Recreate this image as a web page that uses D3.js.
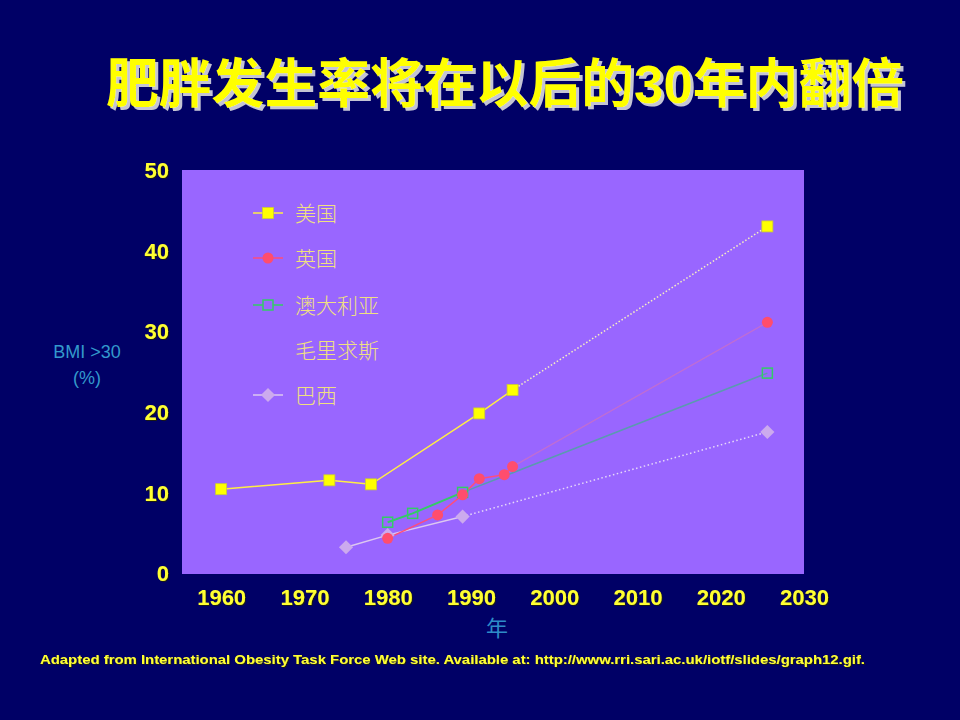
<!DOCTYPE html>
<html>
<head>
<meta charset="utf-8">
<script src="https://cdn.jsdelivr.net/npm/d3@7"></script>
<style>
html,body{margin:0;padding:0;background:#000066;}
svg{display:block;}
</style>
</head>
<body>
<script>
// ---- data ----
const titleText = "肥胖发生率将在以后的30年内翻倍";
const xTicks = [1960, 1970, 1980, 1990, 2000, 2010, 2020, 2030];
const yTicks = [0, 10, 20, 30, 40, 50];
const seriesNames = ["美国", "英国", "澳大利亚", "毛里求斯", "巴西"];

const usYears = [1960, 1973, 1978, 1991, 1995];
const usValues = [10.4, 11.5, 11.0, 19.8, 22.7];
const ukYears = [1980, 1986, 1989, 1991, 1994, 1995];
const ukValues = [4.3, 7.2, 9.7, 11.7, 12.2, 13.2];
const auYears = [1980, 1983, 1989];
const auValues = [6.3, 7.4, 10.0];
const muYears = [];
const muValues = [];
const brYears = [1975, 1980, 1989];
const brValues = [3.2, 4.7, 7.0];

const projYear = 2025.6;
const usProj = 43.0, ukProj = 31.1, auProj = 24.8, brProj = 17.5;

const sourceText = "Adapted from International Obesity Task Force Web site. Available at: http://www.rri.sari.ac.uk/iotf/slides/graph12.gif.";

// ---- layout ----
const W = 960, H = 720;
const svg = d3.select("body").append("svg").attr("width", W).attr("height", H);
const defs = svg.append("defs");
defs.append("filter").attr("id", "tshadow").attr("x", "-5%").attr("y", "-20%").attr("width", "110%").attr("height", "140%")
  .append("feDropShadow").attr("dx", 3).attr("dy", 3).attr("stdDeviation", 0.6)
  .attr("flood-color", "#C4C4D4").attr("flood-opacity", 1);
defs.append("filter").attr("id", "lshadow")
  .append("feDropShadow").attr("dx", 1).attr("dy", 1).attr("stdDeviation", 0.3)
  .attr("flood-color", "#222200").attr("flood-opacity", 0.8);

svg.append("rect").attr("width", W).attr("height", H).attr("fill", "#000066");

const plot = {left: 182, right: 804, top: 170, bottom: 574};
const x = d3.scaleLinear().domain([1955.3, 2030]).range([plot.left, plot.right]);
const y = d3.scaleLinear().domain([0, 50]).range([573, plot.top]);

svg.append("rect").attr("x", plot.left).attr("y", plot.top)
  .attr("width", plot.right - plot.left).attr("height", plot.bottom - plot.top)
  .attr("fill", "#9966FF");

// title with shadow
svg.append("text").attr("x", 505).attr("y", 103)
  .attr("font-family", "'Liberation Sans','Noto Sans CJK SC',sans-serif")
  .attr("font-weight", "bold").attr("font-size", 53).attr("text-anchor", "middle")
  .attr("textLength", 798).attr("lengthAdjust", "spacingAndGlyphs")
  .attr("fill", "#FFFF00").attr("filter", "url(#tshadow)").text(titleText);

// axes
const yAxis = d3.axisLeft(y).tickValues(yTicks).tickSize(0).tickPadding(13);
const yg = svg.append("g").attr("transform", `translate(${plot.left},0)`).call(yAxis);
const xAxis = d3.axisBottom(x).tickValues(xTicks).tickSize(0).tickPadding(12).tickFormat(d3.format("d"));
const xg = svg.append("g").attr("transform", `translate(0,${plot.bottom})`).call(xAxis);
[yg, xg].forEach(g => {
  g.select(".domain").remove();
  g.selectAll("text").attr("fill", "#FFFF33").attr("font-size", 22).attr("font-weight", "bold")
    .attr("font-family", "'Liberation Sans',Arial,sans-serif").attr("filter", "url(#lshadow)");
});
yg.selectAll("text").attr("dy", "0.35em");
xg.selectAll("text").attr("dy", "0.85em");

// axis titles
const axT = svg.append("g").attr("font-family", "'Liberation Sans',Arial,sans-serif").attr("fill", "#3399CC")
  .attr("text-anchor", "middle").attr("font-size", 18);
axT.append("text").attr("x", 87).attr("y", 358).text("BMI >30");
axT.append("text").attr("x", 87).attr("y", 384).text("(%)");
svg.append("text").attr("x", 497).attr("y", 636).attr("text-anchor", "middle")
  .attr("font-family", "'Noto Sans CJK SC',sans-serif").attr("font-size", 22).attr("fill", "#2E8BC8").text("年");

// lines
const line = d3.line().x(d => x(d[0])).y(d => y(d[1]));
const zip = (a, b) => a.map((v, i) => [v, b[i]]);
const us = zip(usYears, usValues), uk = zip(ukYears, ukValues), au = zip(auYears, auValues), br = zip(brYears, brValues);
const proj = (pts, v) => [pts[pts.length - 1], [projYear, v]];

const lines = svg.append("g").attr("fill", "none");
// projections
lines.append("path").attr("d", line(proj(br, brProj))).attr("stroke", "#E6D8F8").attr("stroke-width", 1.5).attr("stroke-dasharray", "1.5,2.5");
lines.append("path").attr("d", line(proj(au, auProj))).attr("stroke", "#5A9AB0").attr("stroke-width", 1.5);
lines.append("path").attr("d", line(proj(uk, ukProj))).attr("stroke", "#D070C0").attr("stroke-width", 1.2).attr("opacity", 0.7);
lines.append("path").attr("d", line(proj(us, usProj))).attr("stroke", "#F8F0C0").attr("stroke-width", 1.5).attr("stroke-dasharray", "1.5,2");
// observed
lines.append("path").attr("d", line(br)).attr("stroke", "#DDC8F0").attr("stroke-width", 1.5);
lines.append("path").attr("d", line(au)).attr("stroke", "#33CC66").attr("stroke-width", 2);
lines.append("path").attr("d", line(uk)).attr("stroke", "#FF4D7A").attr("stroke-width", 1.5);
lines.append("path").attr("d", line(us)).attr("stroke", "#FFEE44").attr("stroke-width", 1.5);

// markers
const mk = svg.append("g");
const brAll = br.concat([[projYear, brProj]]);
const auAll = au.concat([[projYear, auProj]]);
const ukAll = uk.concat([[projYear, ukProj]]);
const usAll = us.concat([[projYear, usProj]]);
const diamondSym = d3.symbol().type(d3.symbolSquare).size(100);
mk.selectAll(".br").data(brAll).join("path").attr("class", "br")
  .attr("d", diamondSym).attr("transform", d => `translate(${x(d[0])},${y(d[1])}) rotate(45)`)
  .attr("fill", "#CCAAEE");
mk.selectAll(".au").data(auAll).join("rect").attr("class", "au")
  .attr("x", d => x(d[0]) - 5).attr("y", d => y(d[1]) - 5).attr("width", 10).attr("height", 10)
  .attr("fill", "none").attr("stroke", "#33CC66").attr("stroke-width", 1.5);
mk.selectAll(".uk").data(ukAll).join("circle").attr("class", "uk")
  .attr("cx", d => x(d[0])).attr("cy", d => y(d[1])).attr("r", 5.5).attr("fill", "#FF4D6D");
mk.selectAll(".us").data(usAll).join("rect").attr("class", "us")
  .attr("x", d => x(d[0]) - 5.5).attr("y", d => y(d[1]) - 5.5).attr("width", 11).attr("height", 11)
  .attr("fill", "#FFFF00").attr("stroke", "#CCCC33").attr("stroke-width", 0.8);

// legend
const legY = [213, 258, 305, 350, 395];
const leg = svg.append("g");
seriesNames.forEach((name, i) => {
  const g = leg.append("g").attr("transform", `translate(0,${legY[i]})`);
  const cx = 268;
  if (i === 0) {
    g.append("line").attr("x1", 253).attr("x2", 283).attr("stroke", "#FFEE44").attr("stroke-width", 1.5);
    g.append("rect").attr("x", cx - 5.5).attr("y", -5.5).attr("width", 11).attr("height", 11).attr("fill", "#FFFF00").attr("stroke", "#CCCC33").attr("stroke-width", 0.8);
  } else if (i === 1) {
    g.append("line").attr("x1", 253).attr("x2", 283).attr("stroke", "#FF4D7A").attr("stroke-width", 1.5);
    g.append("circle").attr("cx", cx).attr("r", 5.5).attr("fill", "#FF4D6D");
  } else if (i === 2) {
    g.append("line").attr("x1", 253).attr("x2", 283).attr("stroke", "#33CC66").attr("stroke-width", 1.5);
    g.append("rect").attr("x", cx - 5).attr("y", -5).attr("width", 10).attr("height", 10).attr("fill", "#9966FF").attr("stroke", "#33CC66").attr("stroke-width", 1.5);
  } else if (i === 4) {
    g.append("line").attr("x1", 253).attr("x2", 283).attr("stroke", "#DDC8F0").attr("stroke-width", 1.5);
    g.append("path").attr("d", diamondSym).attr("transform", `translate(${cx},0) rotate(45)`).attr("fill", "#CCAAEE");
  }
  g.append("text").attr("x", 295).attr("dy", "0.36em").attr("font-size", 21)
    .attr("font-family", "'Noto Sans CJK SC',sans-serif").attr("font-weight", 300)
    .attr("fill", "#F0E080").text(name);
});

// source
svg.append("text").attr("x", 40).attr("y", 664).attr("font-size", 13).attr("font-weight", "bold")
  .attr("font-family", "'Liberation Sans',Arial,sans-serif").attr("fill", "#FFFF33")
  .attr("filter", "url(#lshadow)")
  .attr("textLength", 825).attr("lengthAdjust", "spacingAndGlyphs").text(sourceText);
</script>
</body>
</html>
